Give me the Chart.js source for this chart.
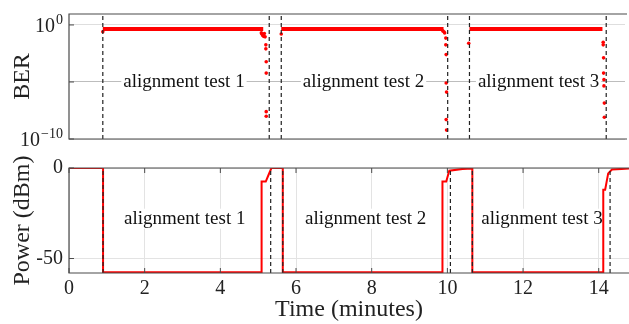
<!DOCTYPE html>
<html>
<head>
<meta charset="utf-8">
<script src="https://cdn.jsdelivr.net/npm/chart.js@4.4.1/dist/chart.umd.min.js"></script>
<style>
  body { margin: 0; background: #fff; width: 629px; height: 324px; overflow: hidden; position: relative; }
  canvas { position: absolute; left: 0; }
  #berCanvas { top: 0; }
  #powerCanvas { top: 150px; }
</style>
</head>
<body>
<canvas id="berCanvas" width="629" height="155"></canvas>
<canvas id="powerCanvas" width="629" height="174"></canvas>
<script>
// --- data ---
var timeMax = 14.8;
var xTicks = [0, 2, 4, 6, 8, 10, 12, 14];
var markerTimes = [0.9, 5.33, 5.65, 10.08, 10.66, 14.3];
var testNames = ['alignment test 1', 'alignment test 2', 'alignment test 3'];
var testLabelTimes = [3.06, 7.84, 12.5];
var testLabelBer = 1e-5;
var testLabelPower = -28;

var berMin = 1e-10;
var berMax = 9.1;
var berTicks = [1e-10, 1e-5, 1];
var berTickBase = ['10', '', '10'];
var berTickExp = ['\u221210', '', '0'];

// flat BER level during each alignment run
var berLevel = 0.45;
var berRunStart = [0.9, 5.65, 10.66];
var berRunEnd = [5.17, 9.97, 14.2];

// scattered BER samples at the start / end of each run
var berTime = [0.9, 5.12, 5.14, 5.16, 5.18, 5.2, 5.22, 5.24, 5.24, 5.25, 5.25, 5.25, 5.25,
               5.65,
               9.95, 9.98, 10.0, 10.03, 10.03, 10.04, 10.04, 10.05, 10.04, 10.05,
               10.64,
               14.22, 14.22, 14.23, 14.23, 14.24, 14.24, 14.25, 14.25];
var berValue = [0.25, 0.2, 0.15, 0.12, 0.1, 0.18, 0.09, 0.018, 0.008, 6e-4, 6e-5, 2.5e-8, 1e-8,
                0.16,
                0.3, 0.25, 0.2, 0.07, 0.018, 2.5e-3, 8e-6, 1.3e-6, 5e-9, 6e-10,
                0.025,
                0.03, 0.018, 1.3e-3, 6e-5, 1.6e-5, 4.5e-6, 1.4e-7, 8e-9];

var powerMin = -58;
var powerMax = 0;
var powerTicks = [-50, 0];
var powerTime = [0, 0.9, 0.9, 5.09, 5.09, 5.2, 5.27, 5.35, 5.65, 5.65, 9.87, 9.87, 9.97, 10.05, 10.4, 10.66, 10.66,
                 14.12, 14.12, 14.17, 14.25, 14.35, 14.6, 14.8];
var powerDbm = [0, 0, -57.6, -57.6, -7.5, -7.5, -4, 0, 0, -57.6, -57.6, -7.5, -7.5, -1.5, -0.5, -0.3, -57.6,
                -57.6, -12, -12, -3, -0.8, -0.5, -0.3];

var serif = "'Liberation Serif', 'DejaVu Serif', serif";
var red = '#ff0000';

function xy(xs, ys) {
    var out = [];
    for (var i = 0; i < xs.length; i++) out.push({x: xs[i], y: ys[i]});
    return out;
}

function markerSets(lo, hi) {
    var sets = [];
    for (var i = 0; i < markerTimes.length; i++) {
        sets.push({
            type: 'line',
            data: [{x: markerTimes[i], y: lo}, {x: markerTimes[i], y: hi}],
            borderColor: '#222',
            borderWidth: 1.2,
            borderDash: [4, 3],
            pointRadius: 0,
            order: 0
        });
    }
    return sets;
}

// frame around the axes + inward tick marks on the y axis
var framePlugin = {
    id: 'frame',
    afterDatasetsDraw: function(chart, args, opts) {
        var a = chart.chartArea, ctx = chart.ctx;
        ctx.save();
        ctx.strokeStyle = '#4a4a4a';
        ctx.lineWidth = 1.2;
        ctx.beginPath();
        ctx.moveTo(a.right + 2, a.top);
        ctx.lineTo(a.left, a.top);
        ctx.lineTo(a.left, a.bottom);
        ctx.lineTo(a.right + 2, a.bottom);
        ctx.stroke();
        var ys = chart.scales.y;
        ctx.lineWidth = 1;
        ys.ticks.forEach(function(t) {
            var p = ys.getPixelForValue(t.value);
            ctx.beginPath();
            ctx.moveTo(a.left, p);
            ctx.lineTo(a.left + 5, p);
            ctx.stroke();
        });
        if (opts.xTicks) {
            var xs = chart.scales.x;
            xs.ticks.forEach(function(t) {
                var p = xs.getPixelForValue(t.value);
                ctx.beginPath();
                ctx.moveTo(p, a.bottom);
                ctx.lineTo(p, a.bottom - 5);
                ctx.moveTo(p, a.top);
                ctx.lineTo(p, a.top + 5);
                ctx.stroke();
            });
        }
        ctx.restore();
    }
};

// "alignment test n" labels with white backing
var labelPlugin = {
    id: 'testLabels',
    beforeDatasetsDraw: function(chart, args, opts) {
        var ctx = chart.ctx;
        ctx.save();
        ctx.font = '19px ' + serif;
        ctx.textAlign = 'center';
        ctx.textBaseline = 'middle';
        var y = chart.scales.y.getPixelForValue(opts.yValue);
        for (var i = 0; i < testNames.length; i++) {
            var x = chart.scales.x.getPixelForValue(testLabelTimes[i]);
            var w = ctx.measureText(testNames[i]).width;
            ctx.fillStyle = '#fff';
            ctx.fillRect(x - w / 2 - 2, y - 10, w + 4, 20);
            ctx.fillStyle = '#111';
            ctx.fillText(testNames[i], x, y);
        }
        ctx.restore();
    }
};

// 10^n tick labels for the BER axis
var powTickPlugin = {
    id: 'powTicks',
    afterDraw: function(chart) {
        var ctx = chart.ctx, ys = chart.scales.y;
        var right = chart.chartArea.left - 6;
        ctx.save();
        ctx.fillStyle = '#222';
        ctx.textAlign = 'right';
        ctx.textBaseline = 'alphabetic';
        for (var i = 0; i < berTicks.length; i++) {
            if (!berTickBase[i]) continue;
            var p = ys.getPixelForValue(berTicks[i]);
            ctx.font = '14px ' + serif;
            var ew = ctx.measureText(berTickExp[i]).width;
            ctx.fillText(berTickExp[i], right, p - 1);
            ctx.font = '20px ' + serif;
            ctx.fillText(berTickBase[i], right - ew - 1, p + 7);
        }
        ctx.restore();
    }
};

var berSets = markerSets(berMin, berMax);
for (var r = 0; r < berRunStart.length; r++) {
    berSets.push({
        type: 'line',
        data: [{x: berRunStart[r], y: berLevel}, {x: berRunEnd[r], y: berLevel}],
        borderColor: red,
        borderWidth: 4,
        pointRadius: 0,
        order: 1
    });
}
berSets.push({
    type: 'scatter',
    data: xy(berTime, berValue),
    backgroundColor: red,
    borderColor: red,
    pointRadius: 1.8,
    pointBorderWidth: 0,
    order: 1
});

new Chart(document.getElementById('berCanvas'), {
    type: 'scatter',
    data: { datasets: berSets },
    options: {
        responsive: false,
        animation: false,
        events: [],
        layout: { padding: { top: 14, right: 0, left: 0, bottom: 16 } },
        plugins: { legend: { display: false }, tooltip: { enabled: false },
                   testLabels: { yValue: testLabelBer } },
        scales: {
            x: {
                type: 'linear', min: 0, max: timeMax, display: false
            },
            y: {
                type: 'logarithmic', min: berMin, max: berMax,
                afterFit: function(s) { s.width = 69; },
                afterBuildTicks: function(s) { s.ticks = berTicks.map(function(v) { return {value: v}; }); },
                ticks: { display: false },
                border: { display: false },
                grid: {
                    drawTicks: false,
                    color: function(c) { return c.tick && c.tick.value === 1e-5 ? '#bdbdbd' : '#dedede'; },
                    borderDash: function(c) { return c.tick && c.tick.value === 1e-5 ? [1, 2] : []; },
                    lineWidth: 1
                },
                title: { display: true, text: 'BER', color: '#222', font: { family: serif, size: 24 },
                         padding: { top: 8, bottom: 0 } }
            }
        }
    },
    plugins: [labelPlugin, framePlugin, powTickPlugin]
});

var powerSets = markerSets(powerMin, powerMax);
powerSets.push({
    type: 'line',
    data: xy(powerTime, powerDbm),
    borderColor: red,
    borderWidth: 2,
    pointRadius: 0,
    order: 1
});

new Chart(document.getElementById('powerCanvas'), {
    type: 'scatter',
    data: { datasets: powerSets },
    options: {
        responsive: false,
        animation: false,
        events: [],
        layout: { padding: { top: 14, right: 0, left: 0, bottom: 0 } },
        plugins: { legend: { display: false }, tooltip: { enabled: false },
                   testLabels: { yValue: testLabelPower }, frame: { xTicks: true } },
        scales: {
            x: {
                type: 'linear', min: 0, max: timeMax,
                afterFit: function(s) { s.height = 51; },
                afterBuildTicks: function(s) { s.ticks = xTicks.map(function(v) { return {value: v}; }); },
                ticks: { color: '#222', font: { family: serif, size: 20 }, padding: 4, maxRotation: 0 },
                border: { display: false },
                grid: { drawTicks: false, color: '#e3e3e3', lineWidth: 1 },
                title: { display: true, text: 'Time (minutes)', color: '#222', font: { family: serif, size: 24 },
                         padding: { top: 0, bottom: 0 } }
            },
            y: {
                type: 'linear', min: powerMin, max: powerMax,
                afterFit: function(s) { s.width = 69; },
                afterBuildTicks: function(s) { s.ticks = powerTicks.map(function(v) { return {value: v}; }); },
                ticks: { color: '#222', font: { family: serif, size: 20 }, padding: 6 },
                border: { display: false },
                grid: { drawTicks: false, color: '#e3e3e3', lineWidth: 1 },
                title: { display: true, text: 'Power (dBm)', color: '#222', font: { family: serif, size: 24 },
                         padding: { top: 8, bottom: 0 } }
            }
        }
    },
    plugins: [labelPlugin, framePlugin]
});
</script>
</body>
</html>
